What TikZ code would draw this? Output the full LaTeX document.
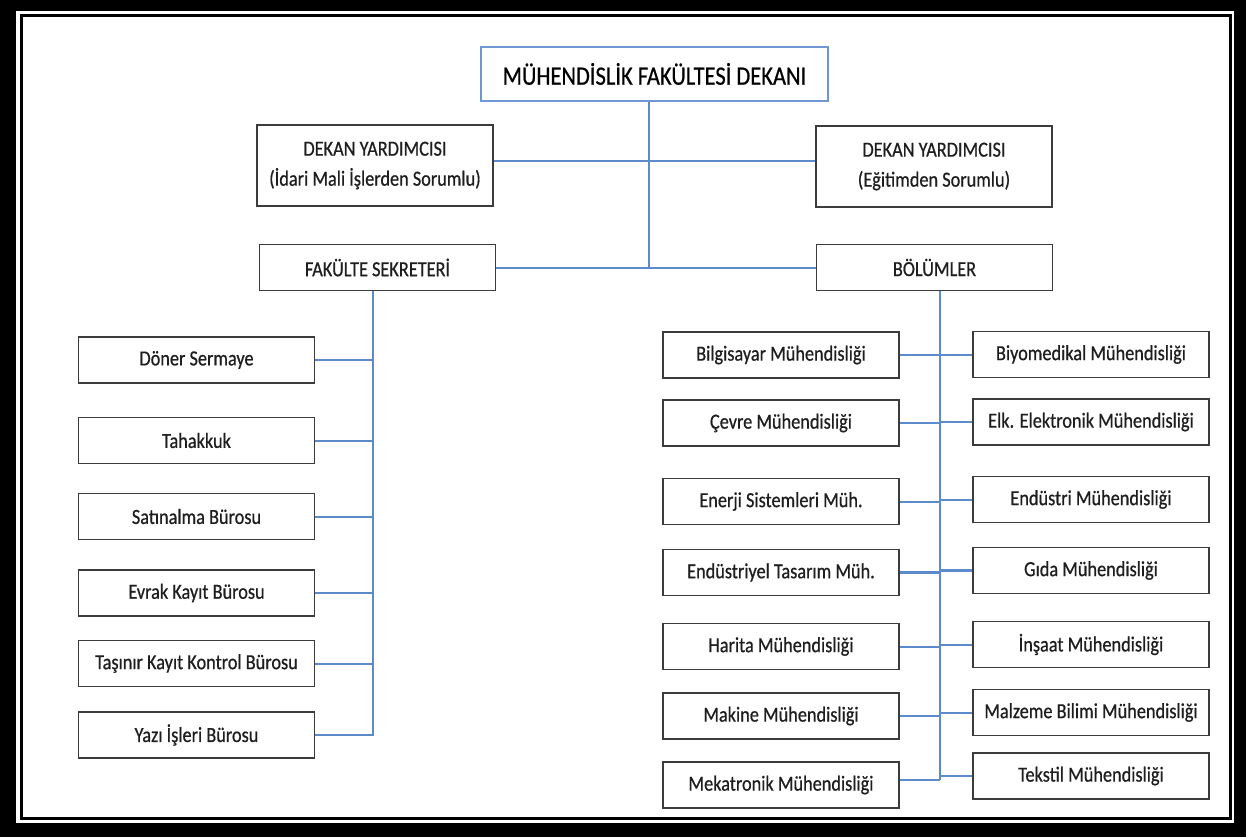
\documentclass[tikz,border=0pt]{standalone}
\usepackage{fontspec}
\setmainfont{Carlito}[FakeStretch=0.85,FakeBold=0.6]
\definecolor{boxgray}{HTML}{3C3C3C}
\definecolor{linkblue}{HTML}{5B8BCB}
\definecolor{titleblue}{HTML}{7099D3}
\definecolor{txt}{HTML}{1E1E1E}
\tikzset{
  unit/.style={draw=boxgray, line width=1.8pt, fill=white, inner sep=0pt,
    minimum width=236pt, minimum height=46pt, text=txt,
    font=\fontsize{21.5}{26}\selectfont, align=center},
  tallunit/.style={unit, minimum height=81pt},
  titlebox/.style={draw=titleblue, line width=1.5pt, fill=white, inner sep=0pt,
    minimum width=347pt, minimum height=54pt, text=black,
    font=\fontsize{26.5}{30}\selectfont},
  link/.style={draw=linkblue, line width=2pt},
  thicklink/.style={draw=linkblue, line width=2.8pt},
}
\begin{document}
\begin{tikzpicture}[x=1pt,y=-1pt]
\useasboundingbox (0,0) rectangle (1246,837);
% frame
\fill[black] (0,0) rectangle (1246,837);
\fill[white] (16,11) rectangle (1234,823);
\draw[black, line width=3pt] (21,16) rectangle (1230.5,818.5);

% top level
\node[titlebox] (dean) at (654.5,74) {MÜHENDİSLİK FAKÜLTESİ DEKANI};
\node[tallunit] (dyl) at (375,165.5) {DEKAN YARDIMCISI\\[4pt](İdari Mali İşlerden Sorumlu)};
\node[tallunit] (dyr) at (934,166.5) {DEKAN YARDIMCISI\\[4pt](Eğitimden Sorumlu)};
\node[unit] (fs) at (377.5,267.5) {FAKÜLTE SEKRETERİ};
\node[unit] (bol) at (934.5,267.5) {BÖLÜMLER};

\coordinate (spine) at (649,268);
\coordinate (mid1) at (649,161);
\coordinate (fstrunk) at (373,291);
\coordinate (boltrunk) at (940,291);

\draw[link] (dean.south -| spine) -- (spine);
\draw[link] (mid1 -| dyl.east) -- (mid1 -| dyr.west);
\draw[link] (fs.east |- spine) -- (bol.west |- spine);

% left column
\node[unit] (don) at (196.5,360) {Döner Sermaye};
\node[unit] (tah) at (196.5,440.5) {Tahakkuk};
\node[unit] (sat) at (196.5,516.5) {Satınalma Bürosu};
\node[unit] (evr) at (196.5,593) {Evrak Kayıt Bürosu};
\node[unit] (tas) at (196.5,663.5) {Taşınır Kayıt Kontrol Bürosu};
\node[unit] (yaz) at (196.5,735) {Yazı İşleri Bürosu};

\draw[link] (fstrunk) -- (fstrunk |- yaz.east) -- (yaz.east);
\draw[thicklink] (don.east) -- (don.east -| fstrunk);
\foreach \n in {tah,sat,evr,tas}
  \draw[link] (\n.east) -- (\n.east -| fstrunk);

% right columns
\node[unit] (bil) at (781,355) {Bilgisayar Mühendisliği};
\node[unit] (cev) at (781,423) {Çevre Mühendisliği};
\node[unit] (ene) at (781,501.5) {Enerji Sistemleri Müh.};
\node[unit] (ets) at (781,572.5) {Endüstriyel Tasarım Müh.};
\node[unit] (har) at (781,646.5) {Harita Mühendisliği};
\node[unit] (mak) at (781,716) {Makine Mühendisliği};
\node[unit] (mek) at (781,785) {Mekatronik Mühendisliği};

\node[unit] (biy) at (1091,354.5) {Biyomedikal Mühendisliği};
\node[unit] (elk) at (1091,422) {Elk. Elektronik Mühendisliği};
\node[unit] (end) at (1091,499.5) {Endüstri Mühendisliği};
\node[unit] (gid) at (1091,570.5) {Gıda Mühendisliği};
\node[unit] (ins) at (1091,644.5) {İnşaat Mühendisliği};
\node[unit] (mal) at (1091,712.5) {Malzeme Bilimi Mühendisliği};
\node[unit] (tek) at (1091,776) {Tekstil Mühendisliği};

\coordinate (trunkend) at (940,780);
\draw[link] (boltrunk) -- (trunkend);
\foreach \n in {bil,ene,har,mak}
  \draw[link] (\n.east) -- (\n.east -| boltrunk);
\foreach \n in {cev,ets}
  \draw[link, line width=2.3pt] (\n.east) -- (\n.east -| boltrunk);
\foreach \n in {biy,end,ins,mal}
  \draw[link] (\n.west -| boltrunk) -- (\n.west);
\foreach \n in {elk,gid}
  \draw[link, line width=2.3pt] (\n.west -| boltrunk) -- (\n.west);
\draw[thicklink] (mek.east |- trunkend) -- (trunkend);
\draw[thicklink] (trunkend |- tek.west) -- (tek.west);
\end{tikzpicture}
\end{document}
